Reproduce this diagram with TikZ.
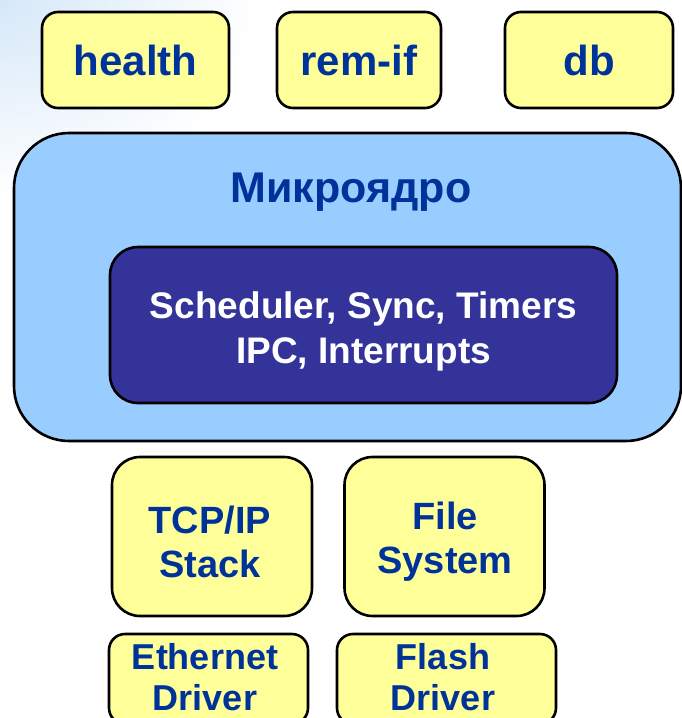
\documentclass[tikz,border=0pt]{standalone}
\usepackage{fontspec}
\setmainfont{Liberation Sans}
\definecolor{modyellow}{HTML}{FFFF99}
\definecolor{kernelblue}{HTML}{99CCFF}
\definecolor{coreblue}{HTML}{333399}
\definecolor{labelblue}{HTML}{003399}
\definecolor{haze}{HTML}{D6E8F8}
\begin{document}
\begin{tikzpicture}[x=1pt,y=-1pt,
  outline/.style={draw=black, line width=2.6pt},
  module/.style={outline, fill=modyellow, rounded corners=16pt, inner sep=0pt},
  topmod/.style={module, minimum height=96pt, text=labelblue,
    font=\bfseries\fontsize{42}{48}\selectfont},
  stackmod/.style={module, minimum height=159pt, minimum width=200pt, rounded corners=28pt},
  drivermod/.style={module, minimum height=90pt},
  caption/.style={inner sep=0pt, text=labelblue, align=center,
    font=\bfseries\fontsize{38}{44}\selectfont},
  drivercaption/.style={caption, font=\bfseries\fontsize{36}{41}\selectfont},
]
\useasboundingbox (0,0) rectangle (682,718);
\fill[white] (0,0) rectangle (682,718);
% soft slide background in the upper left corner
\begin{scope}
  \clip (0,0) rectangle (682,718);
  \shade[inner color=haze, outer color=white] (0,0) ellipse [x radius=260pt, y radius=200pt];
\end{scope}

% application modules
\node[topmod, minimum width=187pt] (health) at (135.5,60) {health};
\node[topmod, minimum width=164pt] (remif) at (359,60) {rem-if};
\node[topmod, minimum width=168pt] (db) at (589,60) {db};

% microkernel
\node[outline, fill=kernelblue, rounded corners=55pt, minimum width=667pt,
      minimum height=308pt, inner sep=0pt] (kernel) at (347.5,287) {};
\node[caption, font=\bfseries\fontsize{43}{48}\selectfont]
  (kerneltitle) at (351,192) {Микроядро};
\node[outline, fill=coreblue, rounded corners=28pt, minimum width=507pt,
      minimum height=156pt, inner sep=0pt] (core) at (363.5,325) {};
\node[caption, text=white, font=\bfseries\fontsize{37}{45}\selectfont]
  (coretext) at (363.5,331) {Scheduler, Sync, Timers\\IPC, Interrupts};

% services
\node[stackmod] (tcp) at (212,536.5) {};
\node[caption] (tcptext) at (210,542) {TCP/IP\\Stack};
\node[stackmod] (fs) at (444.5,536.5) {};
\node[caption] (fstext) at (445,542) {File\\System};

% drivers
\node[drivermod, minimum width=199pt] (eth) at (208.5,679) {};
\node[drivercaption] (ethtext) at (205,677) {Ethernet\\Driver};
\node[drivermod, minimum width=219pt] (flash) at (446.5,679) {};
\node[drivercaption] (flashtext) at (443,677) {Flash\\Driver};
\end{tikzpicture}
\end{document}
